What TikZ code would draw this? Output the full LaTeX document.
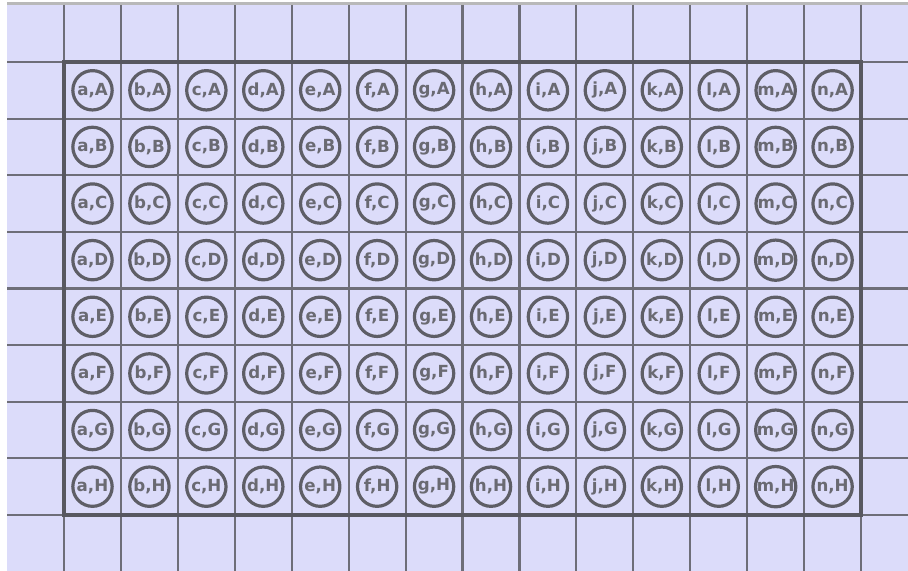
\documentclass[tikz,border=0pt]{standalone}
\usepackage{fontspec}
\usepackage{tikz}
\setsansfont{DejaVu Sans}
\definecolor{platebg}{HTML}{DCDCFA}
\definecolor{gridgray}{HTML}{6E6E78}
\definecolor{wellgray}{HTML}{5E5E66}
\definecolor{labelgray}{HTML}{6A6A72}

\begin{document}
\begin{tikzpicture}[
    x=0.75pt, y=0.75pt,
    gridline/.style={draw=gridgray, line width=1.6pt},
    frame/.style={draw=gridgray!80!black, line width=2.8pt},
    well/.style={circle, draw=wellgray, line width=2.4pt, minimum size=29.5pt, inner sep=0pt, font=\sffamily\bfseries\fontsize{12.5}{12.5}\selectfont, text=labelgray}
]

% Background
\useasboundingbox (0,0) rectangle (908,571);
\fill[platebg] (7,0) rectangle (908,568);
\draw[line width=2.5pt, gray!55] (7,567.5) -- (908,567.5);

% Grid
\foreach \i in {0,...,14}
  \draw[gridline] ({64+56.93*\i},566) -- ({64+56.93*\i},0);
\foreach \j in {0,...,8}
  \draw[gridline] (7,{509-56.625*\j}) -- (908,{509-56.625*\j});
\draw[frame] (64,509) rectangle (861,56);

% Wells
\foreach \c [count=\i from 0] in {a,...,n}
  \foreach \r [count=\j from 0] in {A,...,H}
    \node[well] (\c-\r) at ({92.5+56.93*\i},{480.7-56.625*\j}) {\c,\r};

\end{tikzpicture}
\end{document}
